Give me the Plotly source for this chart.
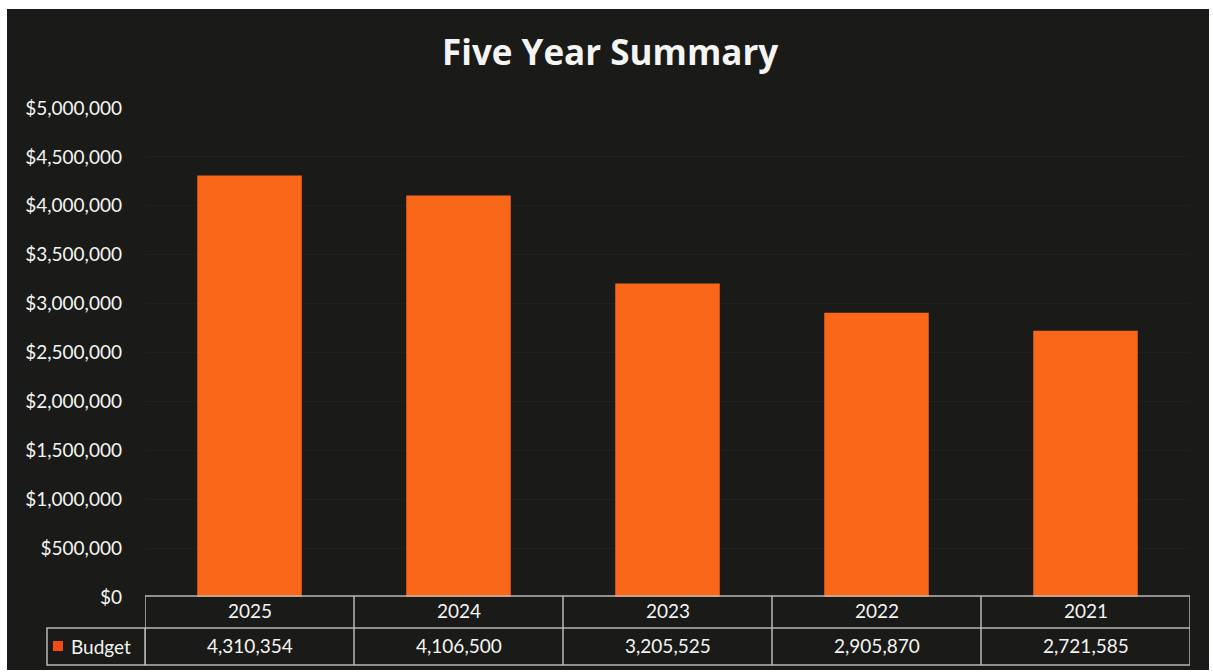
import plotly.graph_objects as go

# ---- data ----
years = ["2025", "2024", "2023", "2022", "2021"]
budget = [4310354, 4106500, 3205525, 2905870, 2721585]
series_name = "Budget"
title_text = "Five Year Summary"

W, H = 1213, 672
L, R, T, B = 145, 23, 108, 75
pw, ph = W - L - R, H - T - B


def px_x(px):
    return (px - L) / pw


def px_y(py):
    return (H - B - py) / ph


BG = "#1a1b18"
TXT = "#f4f4f2"
LINE = "#b8b8b4"
ORANGE = "#fb6719"
KEY = "#f24c12"
FONT = "Lato"

fig = go.Figure()
fig.add_trace(go.Bar(
    x=years, y=budget, name=series_name,
    marker=dict(color=ORANGE, line=dict(width=0)),
    width=0.5, showlegend=False, hoverinfo="x+y",
))

shapes = []
# dark chart background (the scanned page is white around it)
shapes.append(dict(type="rect", xref="paper", yref="paper",
                   x0=px_x(7), x1=px_x(1209), y0=px_y(670), y1=px_y(9),
                   fillcolor=BG, line=dict(width=0), layer="below"))

# data table lines
y_top, y_mid, y_bot = px_y(596), px_y(628), px_y(665)
n = len(years)
for i in range(n + 1):
    xb = i - 0.5
    shapes.append(dict(type="line", xref="x", yref="paper",
                       x0=xb, x1=xb, y0=y_top, y1=y_bot,
                       line=dict(color=LINE, width=1.5)))
for yy in (y_top, y_mid, y_bot):
    shapes.append(dict(type="line", xref="x", yref="paper",
                       x0=-0.5, x1=n - 0.5, y0=yy, y1=yy,
                       line=dict(color=LINE, width=1.5)))
# series-name cell
shapes.append(dict(type="rect", xref="paper", yref="paper",
                   x0=px_x(47), x1=0, y0=y_bot, y1=y_mid,
                   line=dict(color=LINE, width=1.5)))
# legend key
shapes.append(dict(type="rect", xref="paper", yref="paper",
                   x0=px_x(53), x1=px_x(63), y0=px_y(651), y1=px_y(641),
                   fillcolor=KEY, line=dict(width=0)))

annotations = []
for i, (yr, v) in enumerate(zip(years, budget)):
    annotations.append(dict(x=i, xref="x", y=px_y(610), yref="paper",
                            text=yr, showarrow=False,
                            font=dict(family=FONT, size=19, color=TXT),
                            xanchor="center", yanchor="middle"))
    annotations.append(dict(x=i, xref="x", y=px_y(645), yref="paper",
                            text=f"{v:,}", showarrow=False,
                            font=dict(family=FONT, size=19, color=TXT),
                            xanchor="center", yanchor="middle"))
annotations.append(dict(x=px_x(69), xref="paper", y=px_y(646), yref="paper",
                        text=series_name, showarrow=False,
                        font=dict(family=FONT, size=19, color=TXT),
                        xanchor="left", yanchor="middle"))

fig.update_layout(
    width=W, height=H,
    margin=dict(l=L, r=R, t=T, b=B, pad=0),
    paper_bgcolor="white",
    plot_bgcolor="rgba(0,0,0,0)",
    title=dict(text=f"<b>{title_text}</b>", x=0.503, xanchor="center",
               y=1 - 53 / H, yanchor="middle",
               font=dict(family="Open Sans", size=35, color=TXT)),
    xaxis=dict(type="category", range=[-0.5, n - 0.5], showticklabels=False,
               showgrid=False, zeroline=False, showline=False, ticks=""),
    yaxis=dict(range=[0, 5000000], dtick=500000, tickprefix="$",
               tickformat=",.0f", showgrid=True, gridcolor="#20211e",
               gridwidth=1, zeroline=False, showline=False, ticks="",
               ticklabelstandoff=22,
               tickfont=dict(family=FONT, size=19, color=TXT)),
    shapes=shapes,
    annotations=annotations,
    bargap=0.5,
)

fig.write_html("out.html")
